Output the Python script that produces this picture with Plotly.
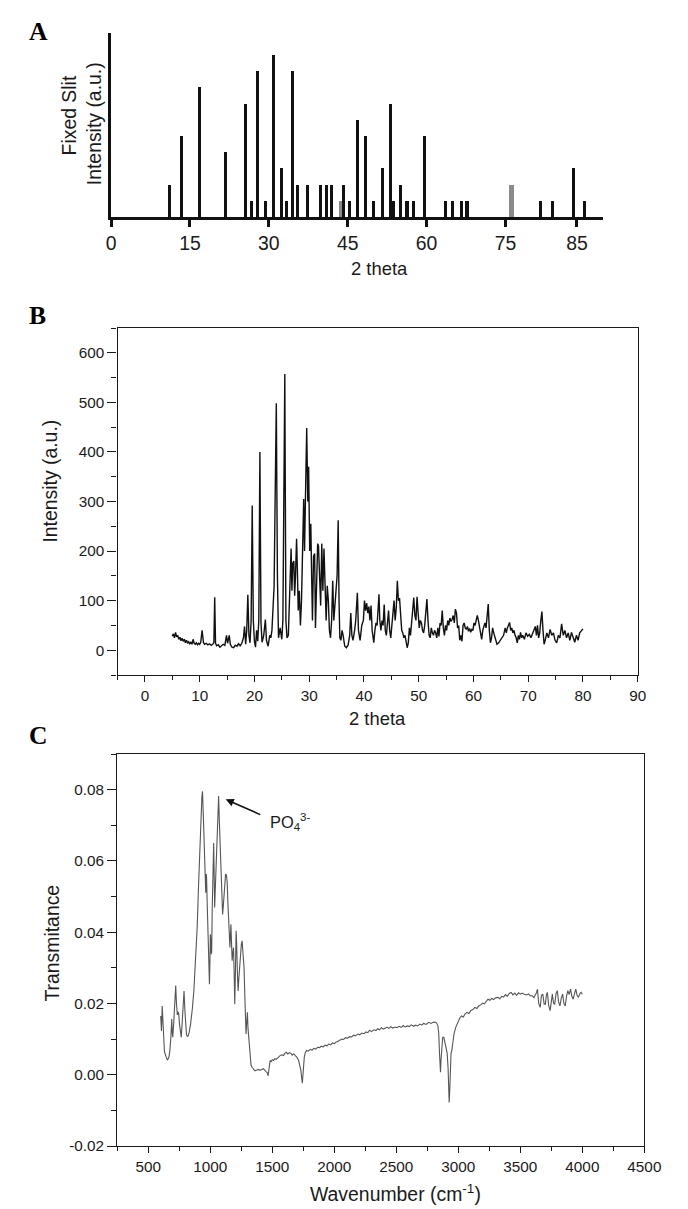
import plotly.graph_objects as go

W, H = 688, 1209          # target picture size (reference pixel grid)
FW, FH = 704, 1217        # figure size actually drawn (the capture is rescaled to W x H)
S = FW / W

# ---------------- Panel A: reference pattern (stick bars) ----------------
A_pos = [11.2, 13.4, 16.9, 21.7, 25.5, 26.7, 27.9, 29.3, 30.9, 32.5, 33.4, 34.5, 35.5,
         37.3, 39.9, 41.0, 41.9, 43.7, 44.2, 45.3, 46.9, 48.4, 49.9, 51.6, 53.1, 53.7,
         55.0, 56.3, 57.5, 59.6, 63.6, 65.0, 66.6, 67.7, 76.2, 81.6, 84.0, 88.0, 90.0]
A_int = [2, 5, 8, 4, 7, 1, 9, 1, 10, 3, 1, 9, 2,
         2, 2, 2, 2, 1, 2, 1, 6, 5, 1, 3, 7, 1,
         2, 1, 1, 5, 1, 1, 1, 1, 2, 1, 1, 3, 1]
A_gray = [43.7, 76.2]
A_tick_vals = [0, 15, 30, 45, 60, 75, 88.6]
A_tick_text = ["0", "15", "30", "45", "60", "75", "85"]

# ---------------- Panel B: measured XRD pattern ----------------
B_theta = [5.0, 5.2, 5.4, 5.6, 5.8, 6.0, 6.2, 6.4, 6.6, 6.8, 7.0, 7.2, 7.4, 7.6, 7.8, 8.0, 8.2, 8.4,
           8.6, 8.8, 9.0, 9.2, 9.4, 9.6, 9.8, 10.0, 10.2, 10.45, 10.7, 10.9, 11.2, 11.5, 11.8, 12.1,
           12.4, 12.6, 12.75, 12.9, 13.1, 13.4, 13.7, 14.0, 14.3, 14.6, 14.9, 15.1, 15.4, 15.6, 15.9,
           16.2, 16.5, 16.8, 17.1, 17.4, 17.7, 18.0, 18.2, 18.4, 18.6, 18.8, 19.0, 19.2, 19.4, 19.6,
           19.8, 20.0, 20.2, 20.4, 20.6, 20.8, 21.0, 21.2, 21.4, 21.7, 22.0, 22.2, 22.5, 22.8, 23.0,
           23.2, 23.4, 23.6, 23.8, 24.0, 24.2, 24.4, 24.7, 25.0, 25.2, 25.35, 25.55, 25.75, 25.95,
           26.2, 26.5, 26.7, 26.85, 27.0, 27.2, 27.35, 27.5, 27.7, 27.85, 28.0, 28.2, 28.4, 28.6,
           28.8, 29.0, 29.15, 29.4, 29.55, 29.75, 29.9, 30.1, 30.3, 30.45, 30.6, 30.8, 31.0, 31.15,
           31.35, 31.55, 31.7, 31.9, 32.1, 32.3, 32.5, 32.7, 32.9, 33.1, 33.3, 33.5, 33.7, 33.9,
           34.1, 34.3, 34.5, 34.7, 34.9, 35.1, 35.3, 35.45, 35.6, 35.8, 36.0, 36.2, 36.5, 36.8,
           37.1, 37.4, 37.6, 37.8, 38.0, 38.3, 38.5, 38.8, 39.0, 39.3, 39.6, 39.9, 40.1, 40.3,
           40.5, 40.7, 40.9, 41.1, 41.3, 41.5, 41.8, 42.0, 42.2, 42.4, 42.6, 42.75, 42.9, 43.1,
           43.3, 43.5, 43.7, 43.9, 44.1, 44.3, 44.5, 44.7, 44.9, 45.1, 45.3, 45.5, 45.7, 45.9,
           46.1, 46.3, 46.5, 46.7, 46.9, 47.1, 47.3, 47.5, 47.7, 47.9, 48.1, 48.3, 48.5, 48.7,
           48.9, 49.1, 49.3, 49.5, 49.7, 49.9, 50.1, 50.3, 50.5, 50.7, 50.9, 51.1, 51.3, 51.5,
           51.7, 51.9, 52.1, 52.3, 52.5, 52.7, 52.9, 53.1, 53.3, 53.5, 53.7, 53.9, 54.1, 54.3,
           54.5, 54.7, 54.9, 55.1, 55.3, 55.5, 55.7, 55.9, 56.1, 56.3, 56.5, 56.7, 56.9, 57.1,
           57.3, 57.5, 57.7, 57.9, 58.1, 58.3, 58.5, 58.7, 58.9, 59.1, 59.3, 59.5, 59.7, 59.9,
           60.1, 60.3, 60.5, 60.7, 60.9, 61.1, 61.3, 61.5, 61.7, 61.9, 62.1, 62.3, 62.5, 62.7,
           62.9, 63.1, 63.3, 63.5, 63.7, 63.9, 64.1, 64.3, 64.6, 64.9, 65.2, 65.5, 65.8, 66.0,
           66.2, 66.4, 66.6, 66.8, 67.0, 67.2, 67.4, 67.6, 67.8, 68.0, 68.2, 68.4, 68.6, 68.8,
           69.0, 69.3, 69.6, 69.9, 70.2, 70.5, 70.8, 71.1, 71.3, 71.5, 71.7, 71.9, 72.1, 72.3,
           72.5, 72.7, 72.9, 73.1, 73.4, 73.7, 74.0, 74.3, 74.6, 74.9, 75.2, 75.5, 75.8, 76.1,
           76.4, 76.7, 77.0, 77.3, 77.6, 77.9, 78.2, 78.5, 78.8, 79.1, 79.4, 79.7, 80.0]
B_int = [28, 33, 25, 36, 27, 30, 22, 26, 19, 24, 18, 22, 15, 20, 14, 17, 13, 16,
         12, 22, 14, 12, 15, 11, 14, 12, 16, 40, 15, 12, 14, 11, 13, 10,
         12, 16, 107, 14, 9, 11, 6, 9, 12, 10, 30, 14, 30, 12, 6,
         5, 10, 8, 13, 9, 14, 25, 48, 12, 40, 112, 30, 15, 60, 292,
         60, 18, 6, 40, 18, 60, 400, 55, 16, 30, 62, 20, 8, 30, 25,
         40, 100, 130, 320, 498, 150, 25, 45, 22, 60, 380, 557, 60, 25,
         30, 150, 205, 120, 175, 180, 110, 150, 225, 160, 80, 120, 50, 100,
         235, 305, 200, 400, 448, 300, 370, 200, 255, 150, 60, 190, 195, 45,
         120, 215, 210, 140, 90, 215, 120, 205, 100, 60, 130, 100, 40, 25,
         60, 140, 60, 100, 120, 150, 262, 100, 25, 20, 40, 30, 8, 5,
         10, 30, 75, 30, 20, 40, 60, 116, 40, 20, 50, 60, 100, 80,
         95, 75, 88, 60, 90, 40, 15, 40, 55, 50, 80, 113, 60, 40,
         60, 50, 92, 40, 30, 60, 80, 40, 25, 50, 70, 100, 60, 85,
         140, 100, 105, 80, 40, 35, 25, 30, 20, 5, 15, 45, 30, 50,
         80, 106, 70, 60, 108, 75, 45, 60, 55, 40, 35, 50, 70, 103,
         60, 30, 25, 45, 35, 30, 40, 35, 25, 45, 28, 55, 50, 80,
         45, 30, 50, 40, 60, 50, 65, 58, 62, 70, 55, 83, 75, 45,
         50, 20, 30, 18, 50, 55, 45, 42, 48, 38, 44, 36, 42, 40,
         55, 50, 60, 70, 60, 45, 30, 22, 40, 50, 55, 45, 70, 93,
         40, 15, 25, 45, 35, 28, 20, 12, 15, 20, 25, 30, 45, 35,
         45, 50, 56, 40, 45, 35, 40, 30, 25, 15, 30, 22, 36, 25,
         30, 22, 35, 28, 32, 25, 35, 45, 48, 30, 50, 25, 35, 60,
         78, 40, 12, 20, 35, 25, 42, 30, 35, 20, 15, 30, 25, 53,
         30, 40, 25, 35, 20, 36, 25, 16, 30, 20, 35, 38, 43]

# ---------------- Panel C: FTIR spectrum ----------------
C_wn = [600, 606, 612, 618, 622, 630, 641, 654, 665, 673, 682, 689, 693, 697, 704, 712, 721, 727,
        734, 740, 745, 752, 760, 766, 772, 780, 788, 795, 802, 808, 815, 822, 830, 841, 855, 867,
        880, 894, 905, 915, 925, 932, 937, 942, 948, 955, 960, 963, 967, 970, 975, 979, 985, 990,
        993, 997, 1000, 1004, 1008, 1011, 1015, 1019, 1023, 1027, 1031, 1035, 1040, 1047, 1054,
        1060, 1067, 1072, 1078, 1086, 1092, 1099, 1104, 1110, 1116, 1123, 1130, 1136, 1142, 1150,
        1154, 1158, 1162, 1166, 1171, 1176, 1181, 1187, 1192, 1197, 1203, 1208, 1212, 1218, 1224,
        1230, 1236, 1242, 1250, 1256, 1263, 1272, 1280, 1288, 1294, 1299, 1304, 1308, 1314, 1320,
        1328, 1336, 1348, 1360, 1375, 1390, 1400, 1412, 1427, 1440, 1453, 1460, 1466, 1470, 1476,
        1482, 1490, 1500, 1510, 1520, 1532, 1545, 1560, 1575, 1590, 1600, 1613, 1625, 1637, 1650,
        1660, 1672, 1685, 1700, 1712, 1722, 1730, 1737, 1742, 1747, 1752, 1758, 1766, 1775, 1790,
        1805, 1820, 1835, 1850, 1865, 1880, 1895, 1910, 1925, 1940, 1955, 1970, 1985, 2000, 2015,
        2030, 2045, 2060, 2075, 2090, 2105, 2122, 2140, 2155, 2170, 2190, 2205, 2222, 2240, 2255,
        2270, 2285, 2300, 2320, 2335, 2350, 2365, 2380, 2395, 2410, 2425, 2440, 2455, 2470, 2490,
        2505, 2521, 2540, 2555, 2570, 2590, 2605, 2620, 2640, 2654, 2670, 2690, 2705, 2720, 2740,
        2761, 2780, 2800, 2814, 2825, 2835, 2842, 2848, 2853, 2856, 2860, 2866, 2874, 2883, 2892,
        2900, 2910, 2917, 2922, 2926, 2931, 2936, 2941, 2947, 2955, 2965, 2979, 2995, 3010, 3025,
        3040, 3053, 3070, 3085, 3100, 3117, 3133, 3150, 3165, 3180, 3195, 3210, 3225, 3239, 3255,
        3270, 3285, 3300, 3319, 3335, 3350, 3365, 3380, 3395, 3410, 3426, 3440, 3455, 3470, 3485,
        3500, 3515, 3532, 3550, 3565, 3580, 3598, 3610, 3620, 3630, 3638, 3648, 3660, 3670, 3681,
        3692, 3702, 3710, 3718, 3728, 3740, 3750, 3758, 3768, 3777, 3788, 3798, 3808, 3819, 3830,
        3841, 3851, 3862, 3872, 3883, 3893, 3905, 3915, 3926, 3937, 3947, 3958, 3968, 3980, 3990,
        4000]
C_T = [0.0165, 0.0123, 0.0193, 0.0130, 0.0086, 0.0065, 0.0053, 0.0041, 0.0048, 0.0065, 0.0105,
       0.0156, 0.0120, 0.0105, 0.0140, 0.0200, 0.0250, 0.0200, 0.0168, 0.0176, 0.0172, 0.0140,
       0.0115, 0.0105, 0.0140, 0.0200, 0.0235, 0.0180, 0.0130, 0.0112, 0.0108, 0.0109, 0.0120,
       0.0142, 0.0185, 0.0235, 0.0320, 0.0413, 0.0530, 0.0647, 0.0735, 0.0780, 0.0795, 0.0760,
       0.0680, 0.0600, 0.0530, 0.0511, 0.0563, 0.0550, 0.0480, 0.0432, 0.0330, 0.0270, 0.0254,
       0.0320, 0.0394, 0.0380, 0.0338, 0.0345, 0.0460, 0.0544, 0.0620, 0.0650, 0.0560, 0.0469,
       0.0520, 0.0600, 0.0675, 0.0730, 0.0782, 0.0720, 0.0660, 0.0609, 0.0530, 0.0450, 0.0470,
       0.0497, 0.0530, 0.0563, 0.0560, 0.0540, 0.0480, 0.0432, 0.0400, 0.0357, 0.0390, 0.0422,
       0.0370, 0.0320, 0.0340, 0.0357, 0.0290, 0.0198, 0.0300, 0.0404, 0.0370, 0.0290, 0.0235,
       0.0270, 0.0310, 0.0335, 0.0365, 0.0376, 0.0345, 0.0301, 0.0200, 0.0114, 0.0150, 0.0175,
       0.0130, 0.0112, 0.0070, 0.0039, 0.0028, 0.0021, 0.0014, 0.0011, 0.0013, 0.0015, 0.0012,
       0.0014, 0.0017, 0.0012, 0.0007, 0.0005, -0.0003, 0.0010, 0.0035, 0.0040, 0.0037, 0.0042,
       0.0040, 0.0045, 0.0043, 0.0049, 0.0053, 0.0056, 0.0054, 0.0060, 0.0063, 0.0058, 0.0062,
       0.0060, 0.0055, 0.0059, 0.0054, 0.0048, 0.0040, 0.0025, 0.0012, -0.0010, -0.0024, 0.0000,
       0.0030, 0.0050, 0.0062, 0.0068, 0.0066, 0.0071, 0.0069, 0.0074, 0.0072, 0.0077, 0.0076,
       0.0080, 0.0078, 0.0083, 0.0081, 0.0086, 0.0084, 0.0089, 0.0087, 0.0092, 0.0094, 0.0098,
       0.0100, 0.0099, 0.0104, 0.0102, 0.0107, 0.0106, 0.0111, 0.0109, 0.0114, 0.0112, 0.0117,
       0.0115, 0.0120, 0.0118, 0.0125, 0.0121, 0.0126, 0.0124, 0.0129, 0.0126, 0.0132, 0.0128,
       0.0131, 0.0133, 0.0130, 0.0135, 0.0131, 0.0134, 0.0132, 0.0136, 0.0133, 0.0138, 0.0134,
       0.0137, 0.0135, 0.0140, 0.0136, 0.0139, 0.0137, 0.0142, 0.0139, 0.0144, 0.0141, 0.0147,
       0.0144, 0.0148, 0.0147, 0.0145, 0.0138, 0.0115, 0.0060, 0.0015, 0.0007, 0.0040, 0.0085,
       0.0105, 0.0105, 0.0090, 0.0075, 0.0060, 0.0020, -0.0040, -0.0078, -0.0040, 0.0020, 0.0060,
       0.0067, 0.0090, 0.0115, 0.0133, 0.0148, 0.0158, 0.0165, 0.0162, 0.0170, 0.0175, 0.0172,
       0.0180, 0.0183, 0.0189, 0.0186, 0.0193, 0.0196, 0.0201, 0.0199, 0.0205, 0.0212, 0.0209,
       0.0214, 0.0211, 0.0216, 0.0217, 0.0213, 0.0220, 0.0218, 0.0225, 0.0220, 0.0228, 0.0231,
       0.0224, 0.0229, 0.0223, 0.0230, 0.0226, 0.0229, 0.0226, 0.0224, 0.0227, 0.0222, 0.0221,
       0.0216, 0.0224, 0.0230, 0.0240, 0.0200, 0.0189, 0.0222, 0.0226, 0.0198, 0.0198, 0.0225,
       0.0231, 0.0195, 0.0180, 0.0210, 0.0226, 0.0200, 0.0198, 0.0228, 0.0236, 0.0205, 0.0193,
       0.0215, 0.0226, 0.0200, 0.0193, 0.0220, 0.0236, 0.0225, 0.0240, 0.0220, 0.0212, 0.0228,
       0.0240, 0.0222, 0.0217, 0.0228, 0.0231, 0.0226]
C_ytick_vals = [-0.02, 0.0, 0.02, 0.04, 0.06, 0.08]
C_ytick_text = ["-0.02", "0.00", "0.02", "0.04", "0.06", "0.08"]

FONT = "Liberation Sans, Arial, sans-serif"
INK = "#1a1a1a"


def px(x):
    return x / W


def py(y):
    return 1 - y / H


def fs(v):
    return round(v * S, 1)


fig = go.Figure()

A_colors = ["#8a8a8a" if p in A_gray else "#111111" for p in A_pos]
A_widths = [1.0 if p == 76.2 else 0.6 for p in A_pos]
fig.add_trace(go.Bar(x=A_pos, y=A_int, width=A_widths, marker=dict(color=A_colors, line=dict(width=0)),
                     xaxis="x", yaxis="y", showlegend=False))
fig.add_trace(go.Scatter(x=B_theta, y=B_int, mode="lines", line=dict(color="#111111", width=1.4),
                         xaxis="x2", yaxis="y2", showlegend=False))
fig.add_trace(go.Scatter(x=C_wn, y=C_T, mode="lines", line=dict(color="#555555", width=1.1),
                         xaxis="x3", yaxis="y3", showlegend=False))

tick_font = dict(family=FONT, size=fs(15), color=INK)

fig.update_layout(
    width=FW, height=FH, autosize=False, margin=dict(l=0, r=0, t=0, b=0),
    paper_bgcolor="white", plot_bgcolor="white", bargap=0,
    xaxis=dict(domain=[px(107), px(603)], anchor="y", range=[0, 93.5],
               tickvals=A_tick_vals, ticktext=A_tick_text, ticks="outside", ticklen=7, tickwidth=3,
               tickcolor="#111", showline=True, linewidth=3, linecolor="#111", showgrid=False,
               zeroline=False, tickfont=dict(family=FONT, size=fs(19), color=INK)),
    yaxis=dict(domain=[py(217), py(33)], anchor="x", range=[0, 11.36], showticklabels=False,
               ticks="", showline=True, linewidth=3, linecolor="#111", showgrid=False, zeroline=False),
    xaxis2=dict(domain=[px(113.5), px(638.3)], anchor="y2", range=[-5, 90], tick0=0, dtick=10,
                ticks="outside", ticklen=6, tickwidth=1, tickcolor=INK,
                minor=dict(dtick=5, ticks="outside", ticklen=4, tickwidth=1, tickcolor=INK),
                showline=True, linewidth=1.3, linecolor=INK, mirror=True, showgrid=False,
                zeroline=False, tickfont=tick_font),
    yaxis2=dict(domain=[py(675), py(328)], anchor="x2", range=[-50, 650], tick0=0, dtick=100,
                ticks="outside", ticklen=9, tickwidth=1, tickcolor=INK,
                minor=dict(dtick=50, ticks="outside", ticklen=5, tickwidth=1, tickcolor=INK),
                showline=True, linewidth=1.3, linecolor=INK, mirror=True, showgrid=False,
                zeroline=False, tickfont=tick_font),
    xaxis3=dict(domain=[px(113.3), px(645)], anchor="y3", range=[250, 4500], tick0=0, dtick=500,
                ticks="outside", ticklen=6, tickwidth=1, tickcolor=INK,
                minor=dict(dtick=250, ticks="outside", ticklen=4, tickwidth=1, tickcolor=INK),
                showline=True, linewidth=1.3, linecolor=INK, mirror=True, showgrid=False,
                zeroline=False, tickfont=tick_font),
    yaxis3=dict(domain=[py(1146), py(754)], anchor="x3", range=[-0.02, 0.09],
                tickvals=C_ytick_vals, ticktext=C_ytick_text,
                ticks="outside", ticklen=9, tickwidth=1, tickcolor=INK,
                minor=dict(dtick=0.01, tick0=0, ticks="outside", ticklen=5, tickwidth=1, tickcolor=INK),
                showline=True, linewidth=1.3, linecolor=INK, mirror=True, showgrid=False,
                zeroline=False, tickfont=tick_font),
)

title_font = dict(family=FONT, size=fs(19), color=INK)
panel_font = dict(family="Liberation Serif, Times New Roman, serif", size=fs(25), color="#000")

ann = []


def text_at(x, y, t, font, angle=0, xanchor="center"):
    ann.append(dict(x=px(x), y=py(y), xref="paper", yref="paper", text=t, showarrow=False,
                    font=font, textangle=angle, xanchor=xanchor, yanchor="middle"))


text_at(34, 31, "<b>A</b>", panel_font)
text_at(33, 315, "<b>B</b>", panel_font)
text_at(33, 735, "<b>C</b>", panel_font)

text_at(65, 115, "Fixed Slit", title_font, -90)
text_at(90, 124, "Intensity (a.u.)", title_font, -90)
text_at(378, 268, "2 theta", dict(family=FONT, size=fs(18), color=INK))

text_at(45, 481, "Intensity (a.u.)", title_font, -90)
text_at(376, 718, "2 theta", dict(family=FONT, size=fs(18), color=INK))

text_at(47, 943, "Transmitance", title_font, -90)
text_at(394, 1193, "Wavenumber (cm<sup>-1</sup>)", title_font)

# PO4 annotation arrow
ann.append(dict(x=px(222.7), y=py(799.3), xref="paper", yref="paper", ax=36, ay=16,
                axref="pixel", ayref="pixel", text="", showarrow=True, arrowhead=2,
                arrowsize=1, arrowwidth=1.6, arrowcolor="#111"))
text_at(265, 822, "PO<sub>4</sub><sup>3-</sup>", dict(family=FONT, size=fs(16), color=INK), xanchor="left")

fig.update_layout(annotations=ann)

fig.write_html(
    "out.html",
    config={"displayModeBar": False, "responsive": False},
    post_script=("document.documentElement.style.margin='0px';"
                 "document.documentElement.style.overflow='hidden';"
                 "document.body.style.margin='0px';document.body.style.padding='0px';"
                 "document.body.style.overflow='hidden';"),
)
